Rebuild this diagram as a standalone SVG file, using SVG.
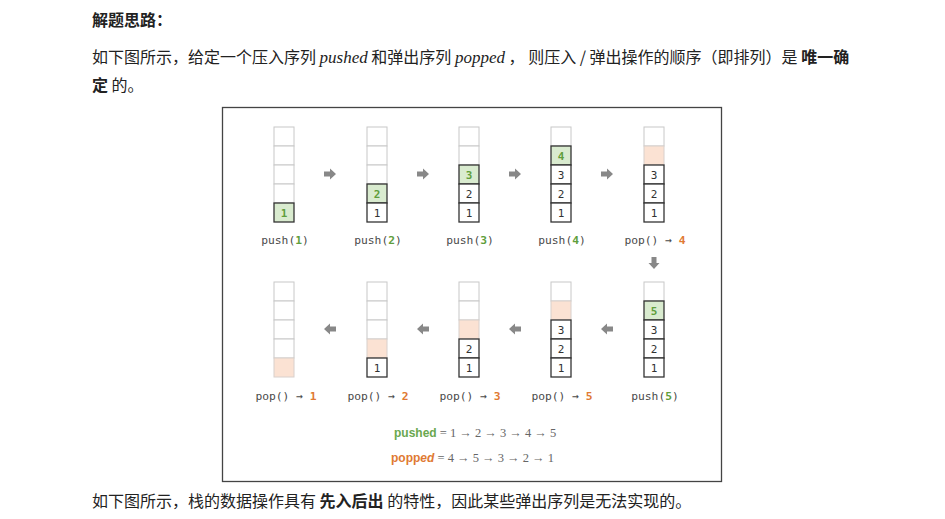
<svg xmlns="http://www.w3.org/2000/svg" width="945" height="519" viewBox="0 0 945 519">
<style>
.body{font-family:"Noto Sans CJK SC","Noto Sans",sans-serif;font-size:16px;fill:#222}
.b{font-weight:bold}
.math{font-family:"Liberation Serif",serif;font-style:italic;font-size:17px}
.e{fill:#fff;stroke:#c8c8c8;stroke-width:1}
.f{fill:#fff;stroke:#333;stroke-width:1.3}
.g{fill:#d9ebcf;stroke:#333;stroke-width:1.3}
.p{fill:#fbe2d3;stroke:#d8d0cc;stroke-width:1}
.ct{font-family:"DejaVu Sans Mono",monospace;font-size:11px;fill:#333;text-anchor:middle}
.gt{fill:#5f9e3c;font-weight:bold}
.ot{fill:#e07a33;font-weight:bold}
.lb{font-family:"DejaVu Sans Mono",monospace;font-size:11.3px;fill:#4a4a4a;text-anchor:middle}
.arr{fill:#888}
.fm{font-family:"Liberation Serif",serif;font-size:12.5px;fill:#666}
.fk{font-family:"Liberation Sans",sans-serif;font-size:12px;font-weight:bold}
</style>
<defs>
<path id="ar" class="arr" d="M-6,-2.5 L0,-2.5 L0,-5.5 L6,0 L0,5.5 L0,2.5 L-6,2.5 Z"/>
</defs>
<rect width="945" height="519" fill="#fff"/>
<text class="body b" x="92" y="26">解题思路：</text>
<text class="body" x="92" y="63">如下图所示，给定一个压入序列 <tspan class="math">pushed</tspan> 和弹出序列 <tspan class="math">popped</tspan> ， 则压入 / 弹出操作的顺序（即排列）是 <tspan class="b">唯一确</tspan></text>
<text class="body" x="92" y="91"><tspan class="b">定</tspan> 的。</text>
<text class="body" x="92" y="507">如下图所示，栈的数据操作具有 <tspan class="b">先入后出</tspan> 的特性，因此某些弹出序列是无法实现的。</text>
<rect x="222.5" y="107.5" width="499" height="374" fill="#fff" stroke="#444" stroke-width="1.3"/>

<g id="s1">
<rect class="e" x="274" y="127" width="20" height="19"/><rect class="e" x="274" y="146" width="20" height="19"/><rect class="e" x="274" y="165" width="20" height="19"/><rect class="e" x="274" y="184" width="20" height="19"/><rect class="g" x="274" y="203" width="20" height="19"/>
<text class="ct gt" x="284" y="216.5">1</text>
<text class="lb" x="285" y="244">push(<tspan class="gt">1</tspan>)</text>
</g>
<g id="s2">
<rect class="e" x="367" y="127" width="20" height="19"/><rect class="e" x="367" y="146" width="20" height="19"/><rect class="e" x="367" y="165" width="20" height="19"/><rect class="g" x="367" y="184" width="20" height="19"/><rect class="f" x="367" y="203" width="20" height="19"/>
<text class="ct gt" x="377" y="197.5">2</text><text class="ct" x="377" y="216.5">1</text>
<text class="lb" x="378" y="244">push(<tspan class="gt">2</tspan>)</text>
</g>
<g id="s3">
<rect class="e" x="459" y="127" width="20" height="19"/><rect class="e" x="459" y="146" width="20" height="19"/><rect class="g" x="459" y="165" width="20" height="19"/><rect class="f" x="459" y="184" width="20" height="19"/><rect class="f" x="459" y="203" width="20" height="19"/>
<text class="ct gt" x="469" y="178.5">3</text><text class="ct" x="469" y="197.5">2</text><text class="ct" x="469" y="216.5">1</text>
<text class="lb" x="470" y="244">push(<tspan class="gt">3</tspan>)</text>
</g>
<g id="s4">
<rect class="e" x="551" y="127" width="20" height="19"/><rect class="g" x="551" y="146" width="20" height="19"/><rect class="f" x="551" y="165" width="20" height="19"/><rect class="f" x="551" y="184" width="20" height="19"/><rect class="f" x="551" y="203" width="20" height="19"/>
<text class="ct gt" x="561" y="159.5">4</text><text class="ct" x="561" y="178.5">3</text><text class="ct" x="561" y="197.5">2</text><text class="ct" x="561" y="216.5">1</text>
<text class="lb" x="562" y="244">push(<tspan class="gt">4</tspan>)</text>
</g>
<g id="s5">
<rect class="e" x="644" y="127" width="20" height="19"/><rect class="p" x="644" y="146" width="20" height="19"/><rect class="f" x="644" y="165" width="20" height="19"/><rect class="f" x="644" y="184" width="20" height="19"/><rect class="f" x="644" y="203" width="20" height="19"/>
<text class="ct" x="654" y="178.5">3</text><text class="ct" x="654" y="197.5">2</text><text class="ct" x="654" y="216.5">1</text>
<text class="lb" x="655" y="244">pop() → <tspan class="ot">4</tspan></text>
</g>

<g id="s6">
<rect class="e" x="644" y="282" width="20" height="19"/><rect class="g" x="644" y="301" width="20" height="19"/><rect class="f" x="644" y="320" width="20" height="19"/><rect class="f" x="644" y="339" width="20" height="19"/><rect class="f" x="644" y="358" width="20" height="19"/>
<text class="ct gt" x="654" y="314.5">5</text><text class="ct" x="654" y="333.5">3</text><text class="ct" x="654" y="352.5">2</text><text class="ct" x="654" y="371.5">1</text>
<text class="lb" x="655" y="400">push(<tspan class="gt">5</tspan>)</text>
</g>
<g id="s7">
<rect class="e" x="551" y="282" width="20" height="19"/><rect class="p" x="551" y="301" width="20" height="19"/><rect class="f" x="551" y="320" width="20" height="19"/><rect class="f" x="551" y="339" width="20" height="19"/><rect class="f" x="551" y="358" width="20" height="19"/>
<text class="ct" x="561" y="333.5">3</text><text class="ct" x="561" y="352.5">2</text><text class="ct" x="561" y="371.5">1</text>
<text class="lb" x="562" y="400">pop() → <tspan class="ot">5</tspan></text>
</g>
<g id="s8">
<rect class="e" x="459" y="282" width="20" height="19"/><rect class="e" x="459" y="301" width="20" height="19"/><rect class="p" x="459" y="320" width="20" height="19"/><rect class="f" x="459" y="339" width="20" height="19"/><rect class="f" x="459" y="358" width="20" height="19"/>
<text class="ct" x="469" y="352.5">2</text><text class="ct" x="469" y="371.5">1</text>
<text class="lb" x="470" y="400">pop() → <tspan class="ot">3</tspan></text>
</g>
<g id="s9">
<rect class="e" x="367" y="282" width="20" height="19"/><rect class="e" x="367" y="301" width="20" height="19"/><rect class="e" x="367" y="320" width="20" height="19"/><rect class="p" x="367" y="339" width="20" height="19"/><rect class="f" x="367" y="358" width="20" height="19"/>
<text class="ct" x="377" y="371.5">1</text>
<text class="lb" x="378" y="400">pop() → <tspan class="ot">2</tspan></text>
</g>
<g id="s10">
<rect class="e" x="274" y="282" width="20" height="19"/><rect class="e" x="274" y="301" width="20" height="19"/><rect class="e" x="274" y="320" width="20" height="19"/><rect class="e" x="274" y="339" width="20" height="19"/><rect class="p" x="274" y="358" width="20" height="19"/>
<text class="lb" x="286" y="400">pop() → <tspan class="ot">1</tspan></text>
</g>

<g id="connectors">
<use href="#ar" transform="translate(330,174)"/>
<use href="#ar" transform="translate(423,174)"/>
<use href="#ar" transform="translate(515,174)"/>
<use href="#ar" transform="translate(607,174)"/>
<use href="#ar" transform="translate(654,263) rotate(90)"/>
<use href="#ar" transform="translate(607,329) rotate(180)"/>
<use href="#ar" transform="translate(515,329) rotate(180)"/>
<use href="#ar" transform="translate(423,329) rotate(180)"/>
<use href="#ar" transform="translate(330,329) rotate(180)"/>
</g>

<g id="formulas">
<text class="fm" x="394" y="437"><tspan class="fk" fill="#6aa84f">pushed</tspan> = 1 → 2 → 3 → 4 → 5</text>
<text class="fm" x="391" y="462"><tspan class="fk" fill="#e07a33">popp<tspan font-style="italic">ed</tspan></tspan> = 4 → 5 → 3 → 2 → 1</text>
</g>
</svg>
